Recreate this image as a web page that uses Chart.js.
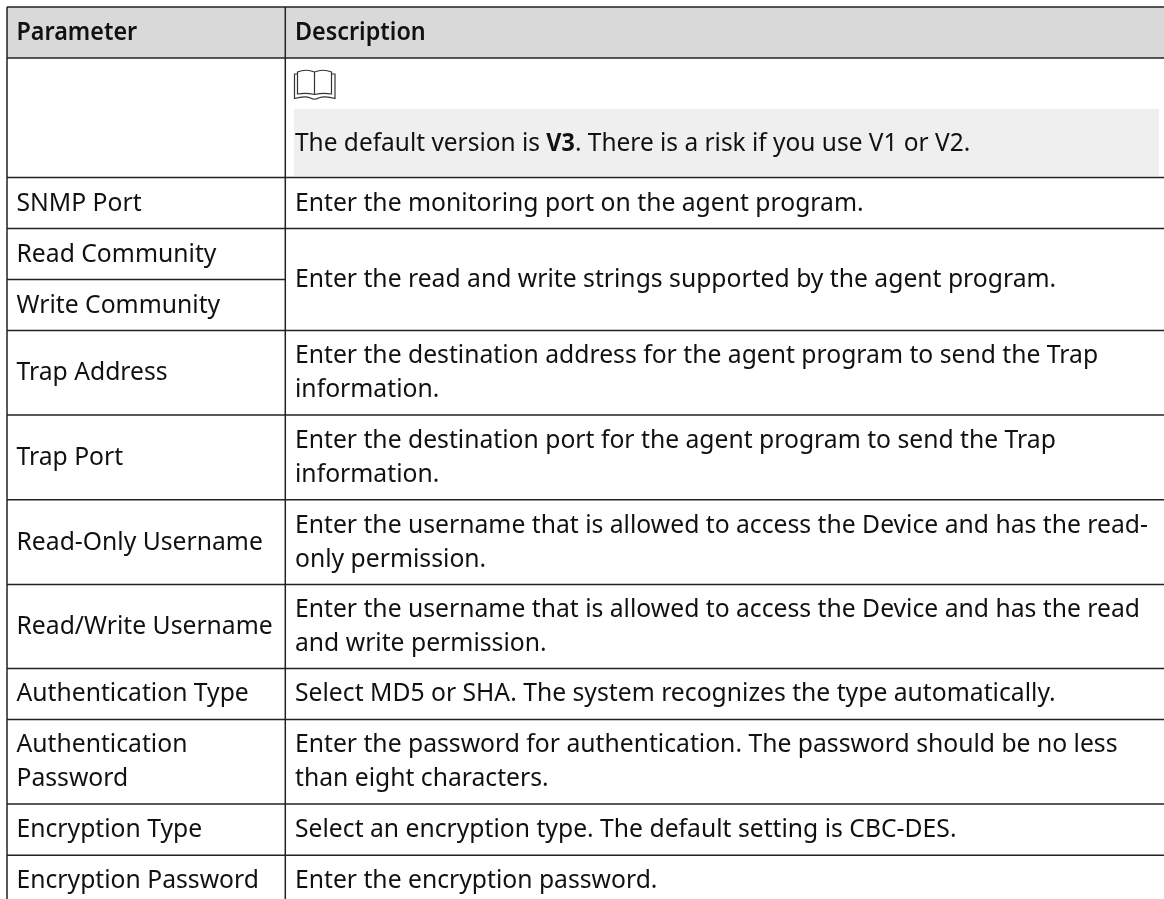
<!DOCTYPE html>
<html><head><meta charset="utf-8">
<style>html,body{margin:0;padding:0;background:#fff}canvas{display:block}</style>
<script src="https://cdn.jsdelivr.net/npm/chart.js@4"></script></head>
<body><div style="width:1164px;height:899px"><canvas id="c" width="1164" height="899"></canvas></div>
<script>
const headers = ["Parameter", "Description"];
const parameters = [
  ["SNMP Port"], ["Read Community"], ["Write Community"], ["Trap Address"], ["Trap Port"],
  ["Read-Only Username"], ["Read/Write Username"], ["Authentication Type"],
  ["Authentication", "Password"], ["Encryption Type"], ["Encryption Password"]
];
const descriptions = [
  ["Enter the monitoring port on the agent program."],
  ["Enter the read and write strings supported by the agent program."],
  null,
  ["Enter the destination address for the agent program to send the Trap", "information."],
  ["Enter the destination port for the agent program to send the Trap", "information."],
  ["Enter the username that is allowed to access the Device and has the read-", "only permission."],
  ["Enter the username that is allowed to access the Device and has the read", "and write permission."],
  ["Select MD5 or SHA. The system recognizes the type automatically."],
  ["Enter the password for authentication. The password should be no less", "than eight characters."],
  ["Select an encryption type. The default setting is CBC-DES."],
  ["Enter the encryption password."]
];
const ruleRows = [7, 58, 177.4, 228.6, 279.6, 330.4, 415, 499.7, 584.4, 668.4, 719.4, 804, 855.3];
const ruleCols = [7, 285.3, 1164];
const lastRowEnd = 905;
const bottomEdge = 899;
const noteBox = [294, 1159, 109, 176];
const FONT = '"Noto Sans"', SIZE = 24.5, SX = 1.008, SX_BOLD = 0.953;

const seg = (x0, y0, x1, y1) => ({type:'line', data:[{x:x0,y:y0},{x:x1,y:y1}], borderColor:'#222222', borderWidth:1.5, pointRadius:0, fill:false, order:1});
const band = (x0, x1, y0, y1, col) => ({type:'line', data:[{x:x0,y:y0},{x:x1,y:y0}], borderWidth:0, borderColor:'transparent', backgroundColor:col, pointRadius:0, fill:{value:y1}, order:3});

const datasets = [
  band(ruleCols[0], ruleCols[2], ruleRows[0], ruleRows[1], '#d9d9d9'),
  band(noteBox[0], noteBox[1], noteBox[2], noteBox[3], '#efefef')
];
ruleRows.forEach((y, i) => {
  const end = i === 4 ? ruleCols[1] : ruleCols[2];
  datasets.push(seg(ruleCols[0], y, end, y));
});
datasets.push(seg(ruleCols[0], ruleRows[0], ruleCols[0], bottomEdge));
datasets.push(seg(ruleCols[1], ruleRows[0], ruleCols[1], bottomEdge));

const tablePlugin = {
  id: 'tableText',
  afterDatasetsDraw(chart) {
    const {ctx, scales:{x, y}} = chart;
    const put = (s, px, py, weight, extra) => {
      const sx = (weight ? SX_BOLD : SX) * (extra || 1);
      ctx.save();
      ctx.font = (weight || 400) + ' ' + SIZE + 'px ' + FONT;
      ctx.fillStyle = '#111111';
      ctx.textBaseline = 'alphabetic';
      ctx.translate(x.getPixelForValue(px), y.getPixelForValue(py));
      ctx.scale(sx, 1);
      ctx.fillText(s, 0, 0);
      const w = ctx.measureText(s).width;
      ctx.restore();
      return w * sx;
    };
    const colL = ruleCols[0] + 9.5, colR = ruleCols[1] + 9.7;
    const edges = ruleRows.concat([lastRowEnd]);
    const block = (lines, px, centre) => lines.forEach((s, i) => put(s, px, centre + 7.5 + (i - (lines.length - 1) / 2) * 34));
    put(headers[0], colL, 39.5, 600);
    put(headers[1], colR, 39.5, 600);
    let nx = colR;
    nx += put("The default version is ", nx, 150.5, 0, 0.99);
    nx += put("V3", nx, 150.5, 700);
    put(". There is a risk if you use V1 or V2.", nx, 150.5, 0, 0.99);
    parameters.forEach((lines, i) => block(lines, colL, (edges[i + 2] + edges[i + 3]) / 2));
    descriptions.forEach((lines, i) => {
      if (!lines) return;
      const bot = i === 1 ? edges[i + 4] : edges[i + 3];
      block(lines, colR, (edges[i + 2] + bot) / 2);
    });
    // book icon
    ctx.save();
    ctx.strokeStyle = '#333333'; ctx.lineWidth = 1.2;
    const X = v => x.getPixelForValue(v), Y = v => y.getPixelForValue(v);
    ctx.beginPath();
    ctx.moveTo(X(297.5), Y(72)); ctx.quadraticCurveTo(X(306), Y(68.5), X(314.5), Y(72));
    ctx.quadraticCurveTo(X(323), Y(68.5), X(331.5), Y(72));
    ctx.lineTo(X(331.5), Y(94)); ctx.quadraticCurveTo(X(323), Y(92.5), X(314.5), Y(94.5));
    ctx.quadraticCurveTo(X(306), Y(92.5), X(297.5), Y(94)); ctx.closePath();
    ctx.moveTo(X(314.5), Y(72)); ctx.lineTo(X(314.5), Y(94.5));
    ctx.moveTo(X(297.5), Y(74)); ctx.lineTo(X(294.5), Y(74)); ctx.lineTo(X(294.5), Y(98.5));
    ctx.quadraticCurveTo(X(305), Y(95.5), X(310.5), Y(98)); ctx.quadraticCurveTo(X(314.5), Y(100.5), X(318.5), Y(98));
    ctx.quadraticCurveTo(X(325), Y(95.5), X(335), Y(98.5)); ctx.lineTo(X(335), Y(74)); ctx.lineTo(X(331.5), Y(74));
    ctx.stroke();
    ctx.restore();
  }
};

new Chart(document.getElementById('c'), {
  type: 'line',
  data: { datasets },
  plugins: [tablePlugin],
  options: {
    responsive: false, animation: false,
    layout: { padding: 0 },
    plugins: { legend: { display: false }, tooltip: { enabled: false } },
    scales: {
      x: { type: 'linear', min: 0, max: 1164, display: false },
      y: { type: 'linear', min: 0, max: 899, reverse: true, display: false }
    }
  }
});
</script></body></html>
